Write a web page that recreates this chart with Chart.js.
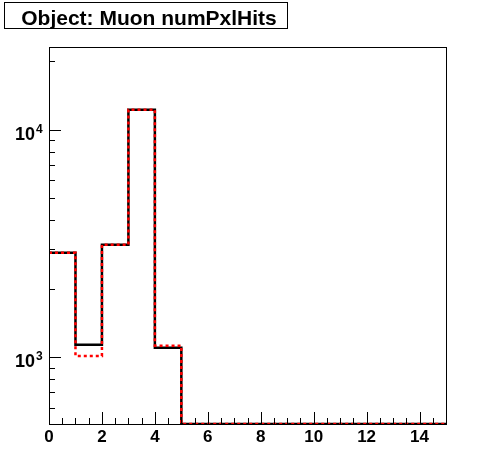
<!DOCTYPE html>
<html><head><meta charset="utf-8">
<script src="https://cdn.jsdelivr.net/npm/chart.js@4.4.1/dist/chart.umd.min.js"></script>
<style>html,body{margin:0;padding:0;background:#fff;}canvas{display:block;}</style>
</head><body>
<canvas id="c" width="496" height="472"></canvas>
<script>
const titleText = "Object: Muon numPxlHits";
const binEdges = [0,1,2,3,4,5,6,7,8,9,10,11,12,13,14,15];
const countsBlack = [2880, 1136, 3120, 12250, 1102, 0, 0, 0, 0, 0, 0, 0, 0, 0, 0];
const countsRed   = [2880, 1013, 3120, 12250, 1124, 0, 0, 0, 0, 0, 0, 0, 0, 0, 0];
const xTickValues = [0,2,4,6,8,10,12,14];
const yTickValues = [1000, 10000];
const yTickExponents = ["3", "4"];
const yMin = 508.7, yMax = 23110;

function stepData(counts){
  const pts = counts.map((v,i)=>({x:binEdges[i], y:Math.max(v,yMin)}));
  pts.push({x:binEdges[binEdges.length-1], y:Math.max(counts[counts.length-1],yMin)});
  return pts;
}

const framePlugin = {
  id:'frame',
  afterDraw(chart){
    const ctx = chart.ctx, a = chart.chartArea;
    const xs = chart.scales.x, ys = chart.scales.y;
    ctx.save();
    ctx.strokeStyle = '#000'; ctx.lineWidth = 1;
    ctx.strokeRect(Math.round(a.left)+0.5, Math.round(a.top)+0.5, Math.round(a.right-a.left), Math.round(a.bottom-a.top));
    ctx.beginPath();
    for(let v=0; v<=15; v+=0.5){
      const px = Math.round(xs.getPixelForValue(v))+0.5;
      const len = (v%2===0) ? 12 : 6;
      ctx.moveTo(px, a.bottom); ctx.lineTo(px, a.bottom-len);
    }
    for(let e=2; e<=4; e++){
      for(let m=1; m<=9; m++){
        const val = m*Math.pow(10,e);
        if(val<yMin || val>yMax) continue;
        const py = Math.round(ys.getPixelForValue(val))+0.5;
        const len = (m===1)?12:6;
        ctx.moveTo(a.left, py); ctx.lineTo(a.left+len, py);
      }
    }
    ctx.stroke();
    ctx.fillStyle='#000';
    yTickValues.forEach((v,i)=>{
      const py = ys.getPixelForValue(v);
      ctx.font = 'bold 18px "Liberation Sans", Arial, sans-serif';
      ctx.textAlign='right'; ctx.textBaseline='alphabetic';
      ctx.fillText("10", 35, py+10);
      ctx.font = 'bold 12px "Liberation Sans", Arial, sans-serif';
      ctx.textAlign='left';
      ctx.fillText(yTickExponents[i], 36, py+3);
    });
    ctx.lineWidth=1;
    ctx.strokeRect(4.5,2.5,283,26);
    ctx.font='bold 21px "Liberation Sans", Arial, sans-serif';
    ctx.textAlign='center'; ctx.textBaseline='alphabetic';
    ctx.fillText(titleText, 149, 25);
    ctx.restore();
  }
};

new Chart(document.getElementById('c'), {
  type:'line',
  data:{datasets:[
    {data:stepData(countsRed), stepped:'before', borderColor:'#ff0000', borderWidth:2.5, borderDash:[3,3], pointRadius:0, fill:false},
    {data:stepData(countsBlack), stepped:'before', borderColor:'#000', borderWidth:2.5, pointRadius:0, fill:false}
  ]},
  options:{
    responsive:false, animation:false,
    layout:{padding:{top:47,right:50,left:0,bottom:0}},
    plugins:{legend:{display:false}, tooltip:{enabled:false}},
    scales:{
      x:{type:'linear', min:0, max:15,
        afterBuildTicks(s){ s.ticks = xTickValues.map(v=>({value:v})); },
        ticks:{color:'#000', font:{family:'"Liberation Sans", Arial, sans-serif', size:17, weight:'bold'}, padding:3, maxRotation:0, autoSkip:false},
        grid:{display:false, drawTicks:false}, border:{display:false},
        afterFit(s){ s.height = 48; }
      },
      y:{type:'logarithmic', min:yMin, max:yMax,
        ticks:{display:false}, grid:{display:false, drawTicks:false}, border:{display:false},
        afterFit(s){ s.width = 49; }
      }
    }
  },
  plugins:[framePlugin]
});
</script>
</body></html>
